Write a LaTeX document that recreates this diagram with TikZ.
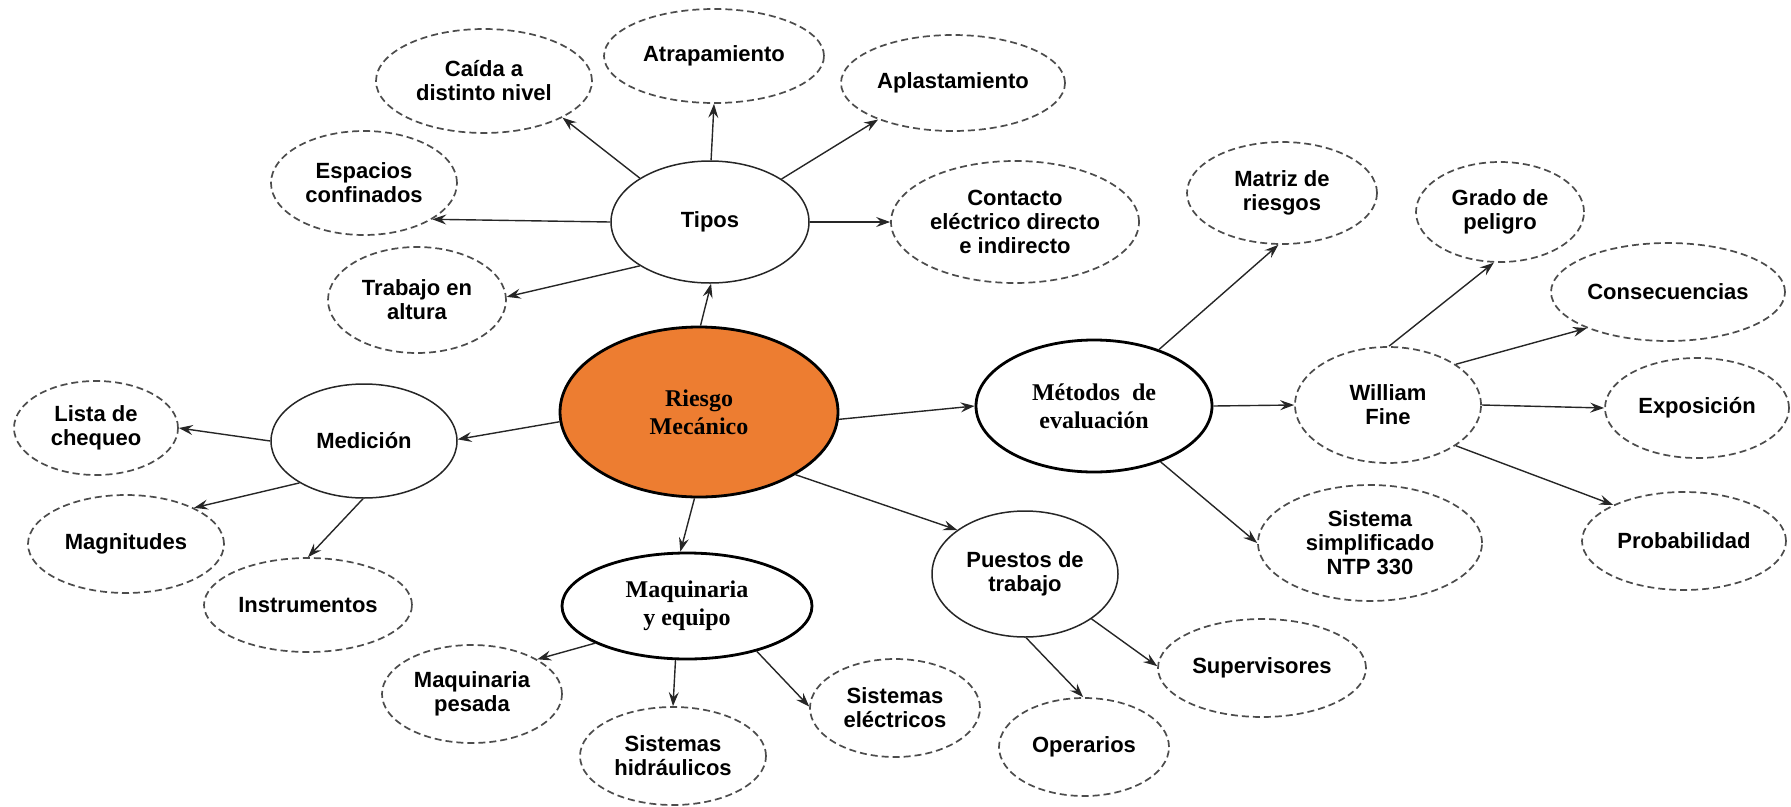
\documentclass[tikz,border=0pt]{standalone}
\usepackage{fontspec}
\setmainfont{Liberation Serif}
\newfontfamily\labelfont{Liberation Sans}
\usepackage{xcolor}
\usepackage{tikz}
\usetikzlibrary{arrows.meta,shapes.geometric}
\definecolor{riesgoorange}{RGB}{237,125,49}

\begin{document}
\begin{tikzpicture}[x=1pt,y=-1pt,
    every node/.style={ellipse,inner sep=0pt,align=center,text=black},
    leaf/.style={draw=black!70,dashed,dash pattern=on 7pt off 4pt,line width=1.7pt,
        font=\labelfont\bfseries\fontsize{22}{24}\selectfont},
    sub/.style={draw=black!85,line width=1.5pt,font=\labelfont\bfseries\fontsize{22}{24}\selectfont},
    group/.style={draw=black,line width=2.8pt,font=\bfseries\fontsize{24}{28}\selectfont},
    root/.style={group,fill=riesgoorange},
    arr/.style={-{Stealth[length=14pt,width=10pt,inset=5pt]},line width=1.4pt,draw=black!85}]
    \useasboundingbox (0,0) rectangle (1791,806);

    % Centre
    \node[root,minimum width=278pt,minimum height=170pt] (riesgo) at (699,412) {Riesgo\\Mecánico};

    % Tipos
    \node[sub,minimum width=198pt,minimum height=122pt] (tipos) at (710,222) {Tipos};
    \node[leaf,minimum width=216pt,minimum height=104pt] (caida) at (484,81) {Caída a\\distinto nivel};
    \node[leaf,minimum width=220pt,minimum height=94pt] (atrap) at (714,56) {Atrapamiento};
    \node[leaf,minimum width=224pt,minimum height=96pt] (aplast) at (953,83) {Aplastamiento};
    \node[leaf,minimum width=186pt,minimum height=104pt] (espacios) at (364,183) {Espacios\\confinados};
    \node[leaf,minimum width=178pt,minimum height=106pt] (altura) at (417,300) {Trabajo en\\altura};
    \node[leaf,minimum width=248pt,minimum height=122pt] (contacto) at (1015,222) {Contacto\\eléctrico directo\\e indirecto};

    % Medicion
    \node[sub,minimum width=186pt,minimum height=114pt] (medicion) at (364,441) {Medición};
    \node[leaf,minimum width=164pt,minimum height=94pt] (lista) at (96,428) {Lista de\\chequeo};
    \node[leaf,minimum width=196pt,minimum height=98pt] (magnitudes) at (126,544) {Magnitudes};
    \node[leaf,minimum width=208pt,minimum height=94pt] (instrumentos) at (308,605) {Instrumentos};

    % Metodos de evaluacion
    \node[group,minimum width=236pt,minimum height=132pt] (metodos) at (1094,406) {Métodos~~de\\evaluación};
    \node[leaf,minimum width=190pt,minimum height=102pt] (matriz) at (1282,193) {Matriz de\\riesgos};
    \node[leaf,minimum width=186pt,minimum height=116pt] (fine) at (1388,405) {William\\Fine};
    \node[leaf,minimum width=224pt,minimum height=116pt] (ntp) at (1370,543) {Sistema\\simplificado\\NTP 330};
    \node[leaf,minimum width=168pt,minimum height=100pt] (grado) at (1500,212) {Grado de\\peligro};
    \node[leaf,minimum width=234pt,minimum height=98pt] (consec) at (1668,292) {Consecuencias};
    \node[leaf,minimum width=184pt,minimum height=100pt] (expo) at (1697,408) {Exposición};
    \node[leaf,minimum width=204pt,minimum height=98pt] (prob) at (1684,541) {Probabilidad};

    % Puestos de trabajo
    \node[sub,minimum width=186pt,minimum height=126pt] (puestos) at (1025,574) {Puestos de\\trabajo};
    \node[leaf,minimum width=208pt,minimum height=98pt] (superv) at (1262,668) {Supervisores};
    \node[leaf,minimum width=170pt,minimum height=98pt] (operarios) at (1084,747) {Operarios};

    % Maquinaria y equipo
    \node[group,minimum width=250pt,minimum height=106pt] (maquinaria) at (687,606) {Maquinaria\\y equipo};
    \node[leaf,minimum width=180pt,minimum height=98pt] (pesada) at (472,694) {Maquinaria\\pesada};
    \node[leaf,minimum width=186pt,minimum height=98pt] (hidraulicos) at (673,756) {Sistemas\\hidráulicos};
    \node[leaf,minimum width=170pt,minimum height=98pt] (electricos) at (895,708) {Sistemas\\eléctricos};

    % Connectors
    \foreach \a/\b in {riesgo.89/tipos.-89, riesgo.184/medicion.1, riesgo.-3/metodos.180,
        riesgo.-33/puestos.147, riesgo.-93/maquinaria.97,
        tipos.148/caida.-25, tipos.89/atrap.-90, tipos.31/aplast.-154, tipos.180/espacios.-28,
        tipos.-148/altura.2, tipos.0/contacto.180,
        medicion.180/lista.0, medicion.-147/magnitudes.28, medicion.-91/instrumentos.90,
        metodos.41/matriz.-94, metodos.0/fine.180, metodos.-40/ntp.180,
        fine.89/grado.-97, fine.31/consec.-156, fine.0/expo.180, fine.-31/prob.153,
        puestos.-89/operarios.91, puestos.-34/superv.179,
        maquinaria.-158/pesada.28, maquinaria.-102/hidraulicos.90, maquinaria.-33/electricos.179}
        \draw[arr] (\a) -- (\b);
\end{tikzpicture}
\end{document}
